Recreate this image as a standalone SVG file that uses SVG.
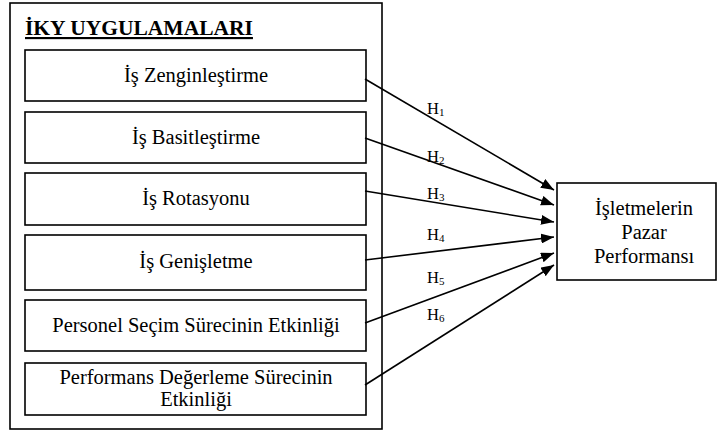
<svg xmlns="http://www.w3.org/2000/svg" width="720" height="435" viewBox="0 0 720 435">
<style>
text{font-family:"Liberation Serif","Times New Roman",serif;fill:#000}
.box{fill:#fff;stroke:#000;stroke-width:1.6}
.t{font-size:20.5px;text-anchor:middle}
.title{font-size:21.5px;font-weight:bold;text-decoration:underline}
.h{font-size:16.5px}
.s{font-size:11px}
.c{stroke:#000;stroke-width:1.6;fill:none;marker-end:url(#ah)}
</style>
<defs>
<marker id="ah" viewBox="0 0 13 10" refX="13" refY="5" markerWidth="13" markerHeight="10" markerUnits="userSpaceOnUse" orient="auto">
<path d="M0,0 L13,5 L0,10 Z" fill="#000"/>
</marker>
</defs>
<g id="outer">
<rect class="box" x="10" y="3" width="372" height="426"/>
<text class="title" x="25" y="35">İKY UYGULAMALARI</text>
</g>
<g id="n1"><rect class="box" x="25" y="50" width="341" height="51"/><text class="t" x="196" y="82">İş Zenginleştirme</text></g>
<g id="n2"><rect class="box" x="25" y="112" width="341" height="51"/><text class="t" x="196" y="144">İş Basitleştirme</text></g>
<g id="n3"><rect class="box" x="25" y="173" width="341" height="52"/><text class="t" x="196" y="205">İş Rotasyonu</text></g>
<g id="n4"><rect class="box" x="25" y="235" width="341" height="55"/><text class="t" x="196" y="268">İş Genişletme</text></g>
<g id="n5"><rect class="box" x="25" y="300" width="341" height="51"/><text class="t" x="196" y="332">Personel Seçim Sürecinin Etkinliği</text></g>
<g id="n6"><rect class="box" x="25" y="363" width="341" height="52"/><text class="t" x="196" y="384">Performans Değerleme Sürecinin</text><text class="t" x="196" y="406">Etkinliği</text></g>
<g id="target"><rect class="box" x="557" y="183" width="159" height="97"/><text class="t" x="644" y="215">İşletmelerin</text><text class="t" x="644" y="239">Pazar</text><text class="t" x="644" y="263">Performansı</text></g>
<g id="connectors">
<line class="c" x1="365" y1="79" x2="554" y2="190"/>
<line class="c" x1="365" y1="138" x2="554" y2="205"/>
<line class="c" x1="365" y1="191" x2="554" y2="222"/>
<line class="c" x1="365" y1="260" x2="554" y2="237"/>
<line class="c" x1="365" y1="323" x2="554" y2="253"/>
<line class="c" x1="365" y1="385" x2="554" y2="265"/>
<text class="h" x="427" y="114">H<tspan class="s" dy="2">1</tspan></text>
<text class="h" x="427" y="162">H<tspan class="s" dy="2">2</tspan></text>
<text class="h" x="427" y="199">H<tspan class="s" dy="2">3</tspan></text>
<text class="h" x="427" y="240">H<tspan class="s" dy="2">4</tspan></text>
<text class="h" x="427" y="283">H<tspan class="s" dy="2">5</tspan></text>
<text class="h" x="427" y="320">H<tspan class="s" dy="2">6</tspan></text>
</g>
</svg>
